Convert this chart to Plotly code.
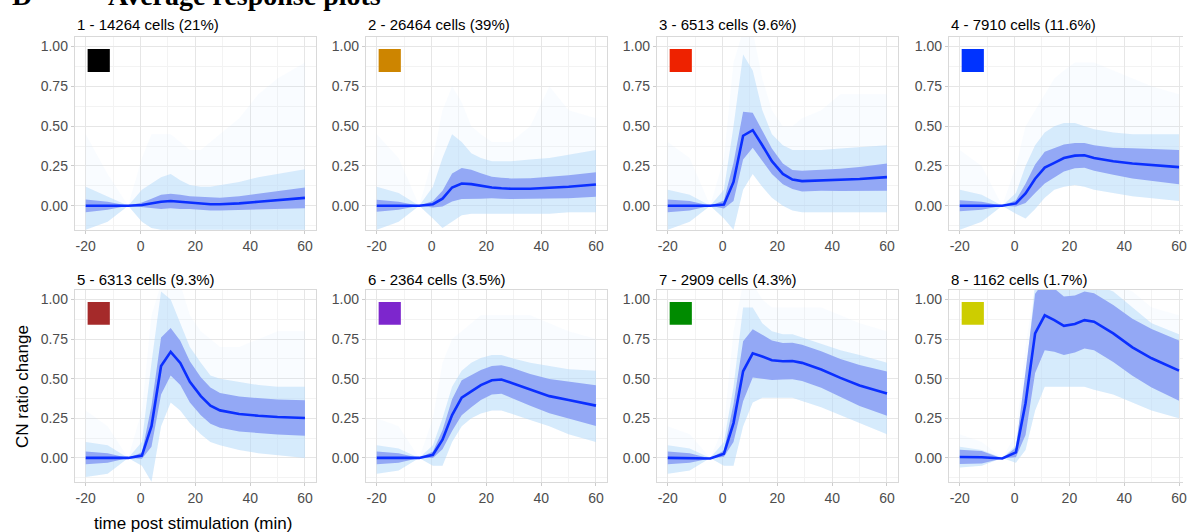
import plotly.graph_objects as go

W, H = 1187, 532

# ---------------- data ----------------
T = [-20, -12, -4.5, 0.5, 4, 7.5, 11, 14.5, 18, 22, 25.5, 29, 36, 43, 50, 60]

titles = ["1 - 14264 cells (21%)", "2 - 26464 cells (39%)", "3 - 6513 cells (9.6%)",
          "4 - 7910 cells (11.6%)", "5 - 6313 cells (9.3%)", "6 - 2364 cells (3.5%)",
          "7 - 2909 cells (4.3%)", "8 - 1162 cells (1.7%)"]
swatch_colors = ["#000000", "#CD8500", "#EE2200", "#0033FF",
                 "#A52A2A", "#7D26CD", "#008B00", "#CDCD00"]

x_ticks = [-20, 0, 20, 40, 60]
y_ticks = [0.0, 0.25, 0.5, 0.75, 1.0]
y_ticklabels = ["0.00", "0.25", "0.50", "0.75", "1.00"]

mean1 = [0.0, 0.0, 0.0, 0.005, 0.015, 0.025, 0.03, 0.025, 0.02, 0.015, 0.01, 0.01, 0.015, 0.025, 0.035, 0.05]
sd1 = [0.04, 0.025, 0.0, 0.015, 0.03, 0.045, 0.045, 0.045, 0.04, 0.04, 0.04, 0.04, 0.045, 0.05, 0.055, 0.065]
lo1 = [-0.15, -0.1, 0.0, -0.1, -0.14, -0.15, -0.15, -0.15, -0.15, -0.15, -0.15, -0.15, -0.15, -0.15, -0.15, -0.15]
hi1 = [0.12, 0.06, 0.0, 0.1, 0.14, 0.18, 0.2, 0.16, 0.13, 0.12, 0.12, 0.13, 0.15, 0.18, 0.2, 0.23]
faint1 = [0.45, 0.2, 0.0, 0.3, 0.45, 0.45, 0.45, 0.4, 0.35, 0.35, 0.4, 0.45, 0.55, 0.7, 0.8, 0.9]

mean2 = [0.0, 0.0, 0.0, 0.01, 0.045, 0.115, 0.14, 0.136, 0.125, 0.115, 0.11, 0.107, 0.107, 0.113, 0.12, 0.134]
sd2 = [0.038, 0.025, 0.0, 0.02, 0.05, 0.088, 0.097, 0.09, 0.08, 0.068, 0.066, 0.065, 0.066, 0.068, 0.072, 0.077]
lo2 = [-0.15, -0.1, 0.0, -0.08, -0.14, -0.1, -0.06, -0.05, -0.05, -0.05, -0.05, -0.05, -0.05, -0.05, -0.04, -0.04]
hi2 = [0.12, 0.08, 0.0, 0.12, 0.3, 0.45, 0.4, 0.33, 0.3, 0.28, 0.28, 0.28, 0.29, 0.3, 0.32, 0.35]
faint2 = [0.45, 0.3, 0.0, 0.3, 0.6, 0.75, 0.65, 0.5, 0.45, 0.4, 0.4, 0.4, 0.5, 0.75, 0.6, 0.55]

mean3 = [0.0, 0.0, 0.0, 0.008, 0.15, 0.44, 0.475, 0.38, 0.28, 0.2, 0.165, 0.155, 0.16, 0.163, 0.168, 0.18]
sd3 = [0.04, 0.03, 0.0, 0.025, 0.12, 0.15, 0.11, 0.095, 0.08, 0.065, 0.06, 0.065, 0.065, 0.07, 0.075, 0.085]
lo3 = [-0.15, -0.1, 0.0, -0.08, -0.15, 0.1, 0.2, 0.12, 0.05, 0.0, -0.03, -0.04, -0.04, -0.04, -0.04, -0.04]
hi3 = [0.1, 0.07, 0.0, 0.1, 0.5, 0.95, 0.85, 0.6, 0.45, 0.38, 0.35, 0.35, 0.35, 0.36, 0.37, 0.38]
faint3 = [0.4, 0.3, 0.0, 0.3, 0.9, 1.1, 1.1, 0.8, 0.6, 0.5, 0.5, 0.55, 0.6, 0.7, 0.7, 0.7]

mean4 = [0.0, 0.0, 0.0, 0.015, 0.078, 0.17, 0.24, 0.27, 0.3, 0.315, 0.317, 0.3, 0.28, 0.266, 0.258, 0.243]
sd4 = [0.035, 0.025, 0.0, 0.02, 0.06, 0.09, 0.1, 0.095, 0.085, 0.08, 0.078, 0.08, 0.085, 0.095, 0.1, 0.107]
lo4 = [-0.15, -0.1, 0.0, -0.05, -0.08, -0.02, 0.05, 0.1, 0.12, 0.13, 0.12, 0.1, 0.08, 0.06, 0.05, 0.03]
hi4 = [0.1, 0.07, 0.0, 0.08, 0.25, 0.38, 0.46, 0.5, 0.52, 0.52, 0.5, 0.48, 0.46, 0.45, 0.45, 0.45]
faint4 = [0.35, 0.25, 0.0, 0.25, 0.5, 0.6, 0.7, 0.8, 0.85, 0.9, 0.9, 0.9, 0.85, 0.8, 0.75, 0.7]

mean5 = [0.0, 0.0, 0.0, 0.015, 0.2, 0.58, 0.67, 0.6, 0.48, 0.39, 0.33, 0.3, 0.277, 0.266, 0.258, 0.252]
sd5 = [0.04, 0.03, 0.0, 0.02, 0.13, 0.18, 0.15, 0.14, 0.13, 0.12, 0.115, 0.11, 0.11, 0.11, 0.11, 0.112]
lo5 = [-0.12, -0.1, 0.0, -0.05, -0.15, 0.2, 0.35, 0.3, 0.22, 0.15, 0.1, 0.08, 0.05, 0.03, 0.02, 0.0]
hi5 = [0.1, 0.08, 0.0, 0.1, 0.6, 1.05, 1.0, 0.85, 0.7, 0.6, 0.52, 0.5, 0.48, 0.46, 0.45, 0.45]
faint5 = [0.3, 0.2, 0.0, 0.3, 0.9, 1.1, 1.1, 1.1, 0.9, 0.8, 0.75, 0.7, 0.7, 0.75, 0.8, 0.8]

mean6 = [0.0, 0.0, 0.0, 0.02, 0.115, 0.27, 0.38, 0.42, 0.46, 0.49, 0.495, 0.475, 0.43, 0.39, 0.365, 0.33]
sd6 = [0.04, 0.03, 0.0, 0.02, 0.06, 0.1, 0.11, 0.1, 0.095, 0.09, 0.09, 0.095, 0.1, 0.108, 0.115, 0.128]
lo6 = [-0.1, -0.08, 0.0, -0.05, -0.05, 0.1, 0.2, 0.25, 0.28, 0.3, 0.3, 0.28, 0.24, 0.2, 0.15, 0.1]
hi6 = [0.08, 0.06, 0.0, 0.08, 0.25, 0.45, 0.55, 0.6, 0.63, 0.65, 0.65, 0.63, 0.6, 0.58, 0.56, 0.55]
faint6 = [0.25, 0.2, 0.0, 0.25, 0.6, 0.75, 0.8, 0.85, 0.9, 0.9, 0.9, 0.9, 0.9, 0.85, 0.8, 0.75]

mean7 = [0.0, 0.0, -0.004, 0.027, 0.22, 0.547, 0.66, 0.64, 0.617, 0.61, 0.612, 0.6, 0.558, 0.505, 0.457, 0.406]
sd7 = [0.04, 0.03, 0.0, 0.02, 0.12, 0.19, 0.153, 0.14, 0.125, 0.115, 0.115, 0.115, 0.115, 0.12, 0.13, 0.14]
lo7 = [-0.1, -0.08, 0.0, -0.05, -0.05, 0.2, 0.35, 0.38, 0.38, 0.38, 0.38, 0.36, 0.32, 0.27, 0.22, 0.15]
hi7 = [0.08, 0.06, 0.0, 0.1, 0.45, 0.95, 0.95, 0.85, 0.8, 0.78, 0.78, 0.76, 0.72, 0.68, 0.65, 0.6]
faint7 = [0.2, 0.15, 0.0, 0.2, 0.8, 1.1, 1.1, 1.0, 0.95, 0.95, 0.95, 0.95, 0.95, 0.9, 0.85, 0.8]

mean8 = [0.006, 0.004, -0.004, 0.035, 0.345, 0.786, 0.9, 0.87, 0.834, 0.845, 0.87, 0.86, 0.786, 0.698, 0.629, 0.551]
sd8 = [0.045, 0.04, 0.0, 0.03, 0.2, 0.25, 0.22, 0.2, 0.185, 0.18, 0.18, 0.18, 0.18, 0.18, 0.185, 0.19]
lo8 = [-0.06, -0.05, 0.0, -0.03, 0.05, 0.3, 0.45, 0.45, 0.45, 0.45, 0.45, 0.43, 0.4, 0.35, 0.3, 0.25]
hi8 = [0.07, 0.05, 0.0, 0.08, 0.5, 1.1, 1.1, 1.1, 1.1, 1.1, 1.1, 1.1, 1.05, 0.95, 0.85, 0.78]
faint8 = [0.15, 0.1, 0.0, 0.15, 0.7, 1.1, 1.1, 1.1, 1.1, 1.1, 1.1, 1.1, 1.1, 1.05, 0.95, 0.9]

means = [mean1, mean2, mean3, mean4, mean5, mean6, mean7, mean8]
sds = [sd1, sd2, sd3, sd4, sd5, sd6, sd7, sd8]
los = [lo1, lo2, lo3, lo4, lo5, lo6, lo7, lo8]
his = [hi1, hi2, hi3, hi4, hi5, hi6, hi7, hi8]
faints = [faint1, faint2, faint3, faint4, faint5, faint6, faint7, faint8]

# ---------------- styling ----------------
FONT = "Liberation Sans, Arial, sans-serif"
FAINT_FILL = "rgba(200,228,252,0.11)"
CLOUD_FILL = "rgba(180,218,250,0.50)"
RIBBON_FILL = "#93A8F5"
LINE_COLOR = "#0B2FFF"

PANEL_W = 242
PANEL_LEFTS = [75, 367, 659, 952]
ROW_TOPS = [37, 290]
ROW_BOTTOMS = [230, 482]
PX_PER_UNIT = PANEL_W / 88.0
Y_RANGE = [-0.152, 1.06]

fig = go.Figure()
layout = dict(width=W, height=H, margin=dict(l=0, r=0, t=0, b=0),
              paper_bgcolor="white", plot_bgcolor="white", showlegend=False,
              annotations=[], shapes=[])


def poly(xs, top, bottom):
    return list(xs) + list(xs)[::-1], list(top) + list(bottom)[::-1]


for k in range(8):
    r, c = divmod(k, 4)
    xa = "x" if k == 0 else f"x{k+1}"
    ya = "y" if k == 0 else f"y{k+1}"
    left = PANEL_LEFTS[c]
    right = min(left + PANEL_W, W)
    xmax = -24 + (right - left) / PX_PER_UNIT

    m, s = means[k], sds[k]
    up = [a + b for a, b in zip(m, s)]
    dn = [a - b for a, b in zip(m, s)]

    px, py = poly(T, faints[k], los[k])
    fig.add_trace(go.Scatter(x=px, y=py, xaxis=xa, yaxis=ya, fill="toself",
                             fillcolor=FAINT_FILL, line=dict(width=0), mode="lines",
                             hoverinfo="skip"))
    px, py = poly(T, his[k], los[k])
    fig.add_trace(go.Scatter(x=px, y=py, xaxis=xa, yaxis=ya, fill="toself",
                             fillcolor=CLOUD_FILL, line=dict(width=0), mode="lines",
                             hoverinfo="skip"))
    px, py = poly(T, up, dn)
    fig.add_trace(go.Scatter(x=px, y=py, xaxis=xa, yaxis=ya, fill="toself",
                             fillcolor=RIBBON_FILL, line=dict(width=0), mode="lines",
                             hoverinfo="skip"))
    fig.add_trace(go.Scatter(x=T, y=m, xaxis=xa, yaxis=ya, mode="lines",
                             line=dict(color=LINE_COLOR, width=2.6)))

    xkey = "xaxis" if k == 0 else f"xaxis{k+1}"
    ykey = "yaxis" if k == 0 else f"yaxis{k+1}"
    layout[xkey] = dict(
        domain=[left / W, right / W], range=[-24, xmax], anchor=ya,
        tickmode="array", tickvals=x_ticks, ticktext=[str(v) for v in x_ticks],
        ticklabeloverflow="allow",
        showgrid=True, gridcolor="#e6e6e6", gridwidth=1,
        minor=dict(tick0=-10, dtick=20, showgrid=True, gridcolor="#f3f3f3", gridwidth=1),
        showline=True, linecolor="#d9d9d9", linewidth=1, mirror=True,
        ticks="outside", ticklen=3, tickcolor="#cccccc",
        tickfont=dict(family=FONT, size=14, color="#4d4d4d"), zeroline=False)
    layout[ykey] = dict(
        domain=[1 - ROW_BOTTOMS[r] / H, 1 - ROW_TOPS[r] / H], range=Y_RANGE, anchor=xa,
        tickmode="array", tickvals=y_ticks, ticktext=y_ticklabels,
        showgrid=True, gridcolor="#e6e6e6", gridwidth=1,
        minor=dict(tick0=0.125, dtick=0.25, showgrid=True, gridcolor="#f3f3f3", gridwidth=1),
        showline=True, linecolor="#d9d9d9", linewidth=1, mirror=(c != 3),
        ticks="outside", ticklen=3, tickcolor="#cccccc",
        tickfont=dict(family=FONT, size=14, color="#4d4d4d"), zeroline=False)

    # coloured cluster swatch
    layout["shapes"].append(dict(type="rect", xref=xa, yref=ya,
                                 x0=-19.3, x1=-11.2, y0=0.84, y1=0.985,
                                 fillcolor=swatch_colors[k], line=dict(width=0), layer="above"))
    # panel title
    title_y = [24.5, 279][r]
    layout["annotations"].append(dict(text=titles[k], xref="paper", yref="paper",
                                      x=left / W, y=1 - title_y / H, xanchor="left",
                                      yanchor="middle", showarrow=False,
                                      font=dict(family=FONT, size=15, color="#000000")))

# axis titles
layout["annotations"].append(dict(text="CN ratio change", xref="paper", yref="paper",
                                  x=22 / W, y=1 - 386 / H, textangle=-90,
                                  xanchor="center", yanchor="middle", showarrow=False,
                                  font=dict(family=FONT, size=17, color="#000000")))
layout["annotations"].append(dict(text="time post stimulation (min)", xref="paper", yref="paper",
                                  x=194 / W, y=1 - 523 / H, xanchor="center", yanchor="middle",
                                  showarrow=False,
                                  font=dict(family=FONT, size=17, color="#000000")))
# cropped figure heading
HEAD_FONT = "Liberation Serif, Times New Roman, serif"
layout["annotations"].append(dict(text="<b>D</b>", xref="paper", yref="paper",
                                  x=10 / W, y=1 + 4 / H, xanchor="left", yanchor="middle",
                                  showarrow=False, font=dict(family=HEAD_FONT, size=28, color="#000000")))
layout["annotations"].append(dict(text="<b>Average response plots</b>", xref="paper", yref="paper",
                                  x=106 / W, y=1 + 4 / H, xanchor="left", yanchor="middle",
                                  showarrow=False, font=dict(family=HEAD_FONT, size=28, color="#000000")))

fig.update_layout(**layout)
fig.write_html("out.html", config={"displayModeBar": False},
               post_script="document.body.style.margin='0';document.body.style.overflow='hidden';")
